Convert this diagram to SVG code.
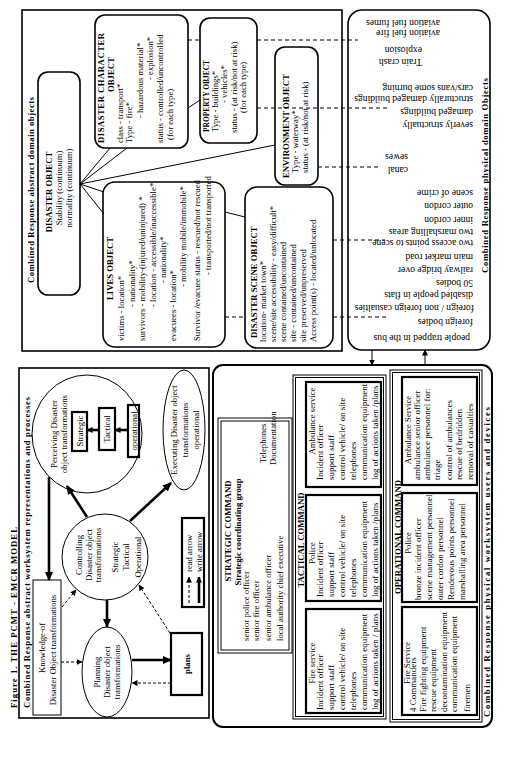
<svg xmlns="http://www.w3.org/2000/svg" width="512" height="763" viewBox="0 0 512 763">
<style>
text{font-family:"Liberation Serif","Times New Roman",serif;font-size:8.7px;fill:#000}
.b{font-weight:bold}
.m{text-anchor:middle}
.w9{font-size:9px}
.p10{font-size:9.6px}
.box{fill:none;stroke:#000;stroke-width:1.6}
.tb{fill:none;stroke:#000;stroke-width:2.2}
.tn{fill:none;stroke:#000;stroke-width:1}
.ln{fill:none;stroke:#000;stroke-width:1}
.dl{fill:none;stroke:#000;stroke-width:1;stroke-dasharray:4 3}
.ds{fill:none;stroke:#000;stroke-width:1;stroke-dasharray:3 2}
.tk{fill:none;stroke:#000;stroke-width:2.6}
</style>
<defs>
<marker id="ah" markerUnits="userSpaceOnUse" markerWidth="9" markerHeight="8" refX="8" refY="4" orient="auto"><path d="M0,0L9,4L0,8z" fill="#000"/></marker>
<marker id="am" markerUnits="userSpaceOnUse" markerWidth="6" markerHeight="6" refX="5.5" refY="3" orient="auto"><path d="M0,0L6,3L0,6z" fill="#000"/></marker>
</defs>
<rect width="512" height="763" fill="#fff"/>

<!-- ===== Figure / abstract worksystem ===== -->
<g id="figure-title"><g transform="rotate(-90)">
<text class="b" font-size="10.5" x="-708" y="17" textLength="181">Figure 1. THE PCMT - EMCR MODEL</text>
</g></g>

<g id="abstract-worksystem-panel">
<rect class="box" x="19" y="368" width="190" height="350"/>
<g transform="rotate(-90)"><text class="b" font-size="10" x="-708" y="30" textLength="311">Combined Response abstract worksystem representations and processes</text></g>
</g>

<g id="knowledge">
<rect class="tn" x="33" y="580" width="28" height="135" stroke-width="1.3"/>
<g transform="rotate(-90)">
<text class="m" x="-648" y="45">Knowledge-of</text>
<text class="m" x="-650" y="56">Disaster Object transformations</text>
</g></g>

<g id="perceiving">
<ellipse class="tn" cx="87" cy="434" rx="55" ry="59"/>
<rect class="tb" x="72" y="412" width="15" height="39"/>
<rect class="tb" x="99" y="408" width="16" height="42"/>
<rect class="tb" x="128" y="405" width="11" height="52"/>
<g transform="rotate(-90)">
<text class="m" x="-434" y="57">Perceiving Disaster</text>
<text class="m" x="-434" y="67">object transformations</text>
<text class="m" x="-431" y="83" font-size="7.5">Strategic</text>
<text class="m" x="-429" y="110" font-size="7.5">Tactical</text>
<text class="m" x="-431" y="136.5" font-size="7">operational</text>
</g></g>

<g id="controlling">
<circle class="tn" cx="105" cy="557" r="43"/>
<g transform="rotate(-90)">
<text class="m" x="-555" y="82">Controlling</text>
<text class="m" x="-555" y="91.5">Disaster object</text>
<text class="m" x="-555" y="101">transformations</text>
<text class="m" x="-557" y="118">Strategic</text>
<text class="m" x="-557" y="129">Tactical</text>
<text class="m" x="-557" y="141">Operational</text>
</g></g>

<g id="executing">
<ellipse class="tn" cx="184" cy="430" rx="21" ry="60"/>
<g transform="rotate(-90)">
<text class="m" x="-430" y="177">Executing Disaster object</text>
<text class="m" x="-430" y="188">transformations</text>
<text class="m" x="-430" y="199">operational</text>
</g></g>

<g id="planning">
<ellipse class="tn" cx="107" cy="672" rx="25" ry="45"/>
<g transform="rotate(-90)">
<text class="m" x="-672" y="100">Planning</text>
<text class="m" x="-672" y="110">Disaster object</text>
<text class="m" x="-672" y="120">transformations</text>
</g></g>

<g id="plans">
<rect class="tb" x="171" y="633" width="31" height="62"/>
<g transform="rotate(-90)"><text class="b m" x="-664" y="190" font-size="9.5">plans</text></g>
</g>

<g id="legend">
<rect class="tb" x="182" y="518" width="22" height="89"/>
<line class="ds" x1="189" y1="603" x2="189" y2="577" marker-end="url(#am)"/>
<line class="tk" x1="199" y1="603" x2="199" y2="577" stroke-width="2" marker-end="url(#am)"/>
<g transform="rotate(-90)">
<text x="-572" y="192" font-size="8">read arrow</text>
<text x="-572" y="202" font-size="8">write arrow</text>
</g></g>

<g id="worksystem-connectors">
<line class="tk" x1="87" y1="517" x2="67" y2="486" marker-end="url(#ah)"/>
<line class="tk" x1="130" y1="521" x2="171" y2="483" marker-end="url(#ah)"/>
<line class="tk" x1="107" y1="600" x2="107" y2="627" marker-end="url(#ah)"/>
<line class="tk" x1="49" y1="477" x2="49" y2="580" marker-end="url(#ah)"/>
<line class="tk" x1="132" y1="660" x2="171" y2="660" marker-end="url(#ah)"/>
<line class="tk" x1="128" y1="430" x2="115" y2="430" stroke-width="2" marker-end="url(#am)"/>
<line class="tk" x1="99" y1="430" x2="87" y2="430" stroke-width="2" marker-end="url(#am)"/>
<line class="ds" x1="62" y1="607" x2="76" y2="590" marker-end="url(#am)"/>
<line class="ds" x1="61" y1="662" x2="82" y2="662" marker-end="url(#am)"/>
<line class="ds" x1="171" y1="683" x2="132" y2="683" marker-end="url(#am)"/>
<line class="ds" x1="170" y1="633" x2="139" y2="585" marker-end="url(#am)"/>
</g>

<!-- ===== Abstract domain objects ===== -->
<g id="abstract-domain-panel">
<rect class="box" x="22" y="10" width="320" height="341"/>
<g transform="rotate(-90)"><text class="b" font-size="9.5" x="-283" y="34" textLength="186">Combined Response abstract domain objects</text></g>
</g>

<g id="disaster-object">
<rect class="box" x="38" y="72" width="42" height="223" rx="10"/>
<g transform="rotate(-90)">
<text class="b m" font-size="12" x="-192" y="52">DISASTER OBJECT</text>
<text class="m" font-size="10.5" x="-188" y="62">Stability (continuum)</text>
<text class="m" font-size="10.5" x="-188" y="72">normality (continuum)</text>
</g></g>

<g id="disaster-character-object">
<rect class="box" x="95" y="15" width="93" height="133" rx="10"/>
<g transform="rotate(-90)">
<text class="b" font-size="9.5" x="-143" y="104" textLength="110">DISASTER CHARACTER</text>
<text class="b" font-size="9.5" x="-92" y="114">OBJECT</text>
<text x="-143" y="123">class - transport*</text>
<text x="-143" y="132">Type - fire*</text>
<text x="-118" y="143">- hazardous material*</text>
<text x="-80" y="153">- explosion*</text>
<text x="-143" y="163">status - controlled/uncontrolled</text>
<text x="-140" y="173">(for each type)</text>
</g></g>

<g id="property-object">
<rect class="box" x="200" y="18" width="57" height="125" rx="10"/>
<g transform="rotate(-90)">
<text class="b" font-size="9" x="-132" y="209" textLength="72" lengthAdjust="spacingAndGlyphs">PROPERTY OBJECT</text>
<text x="-132" y="218">Type - buildings*</text>
<text x="-103" y="227">- vehicles*</text>
<text x="-133" y="237">status - (at risk/not at risk)</text>
<text x="-113" y="246">(for each type)</text>
</g></g>

<g id="environment-object">
<rect class="box" x="275" y="47" width="43" height="138" rx="10"/>
<g transform="rotate(-90)">
<text class="b" font-size="9.5" x="-178" y="289">ENVIRONMENT OBJECT</text>
<text x="-173" y="298">Type - waterway*</text>
<text x="-173" y="308">status - (at risk/not at risk)</text>
</g></g>

<g id="lives-object">
<rect class="box" x="103" y="182" width="122" height="165" rx="12"/>
<g transform="rotate(-90)">
<text class="b" font-size="10" x="-300" y="113">LIVES OBJECT</text>
<text x="-341" y="124">victims - location*</text>
<text x="-307" y="135">- nationality*</text>
<text x="-341" y="145">survivors - mobility-(injured/uninjured) *</text>
<text x="-307" y="156">- location - accessible/inaccessible*</text>
<text x="-283" y="166">- nationality*</text>
<text x="-341" y="176">evacuees - location*</text>
<text x="-287" y="186">- mobility mobile/immobile*</text>
<text x="-341" y="200">Survivor /evacuee status - rescued/not rescued</text>
<text x="-275" y="211">- transported/not transported</text>
</g></g>

<g id="disaster-scene-object">
<rect class="box" x="245" y="187" width="88" height="161" rx="12"/>
<g transform="rotate(-90)">
<text class="b" font-size="10" x="-338" y="257">DISASTER SCENE OBJECT</text>
<text x="-342" y="266">location- market town*</text>
<text x="-342" y="276">scene/site accessibility - easy/difficult*</text>
<text x="-342" y="286">scene contained/uncontained</text>
<text x="-342" y="296">site - contained/uncontained</text>
<text x="-342" y="306">site preserved/unpreserved</text>
<text x="-342" y="316">Access point(s) - located/unlocated</text>
</g></g>

<!-- ===== Physical domain objects ===== -->
<g id="physical-domain-objects">
<rect class="box" x="348" y="10" width="142" height="340" rx="14"/>
<g transform="rotate(-90)"><text class="b" font-size="10" x="-273" y="488" textLength="195">Combined Response physical domain Objects</text></g>
<g transform="rotate(180)">
<text class="p10" x="-440" y="-19.5">aviation fuel fumes</text>
<text class="p10" x="-440" y="-29.5">aviation fuel fire</text>
<text class="p10" x="-422" y="-46.5">explosion</text>
<text class="p10" x="-422" y="-58.5">Train crash</text>
<text class="p10" x="-473" y="-84.5">cars/vans some burning</text>
<text class="p10" x="-473" y="-95.5">structurally damaged buildings</text>
<text class="p10" x="-473" y="-108.5">damaged buildings</text>
<text class="p10" x="-473" y="-121.5">severly structually</text>
<text class="p10" x="-408" y="-153.5">sewes</text>
<text class="p10" x="-408" y="-166.5">canal</text>
<text class="p10" x="-473" y="-189.5">scene of crime</text>
<text class="p10" x="-473" y="-202.5">outer cordon</text>
<text class="p10" x="-473" y="-216.5">inner cordon</text>
<text class="p10" x="-473" y="-228.5">two marshalling areas</text>
<text class="p10" x="-473" y="-239.5">two access points to scene</text>
<text class="p10" x="-473" y="-253.5">main market road</text>
<text class="p10" x="-473" y="-266.5">railway bridge over</text>
<text class="p10" x="-473" y="-279.5">50 bodies</text>
<text class="p10" x="-473" y="-291.5">disabled people in flats</text>
<text class="p10" x="-474" y="-304.5">foreign / non foreign casualties</text>
<text class="p10" x="-473" y="-318.5">foreign bodies</text>
<text class="p10" x="-470" y="-334.5">people trapped in the bus</text>
</g></g>

<g id="domain-connectors">
<line class="ln" x1="80" y1="184" x2="110" y2="148"/>
<line class="ln" x1="80" y1="184" x2="127" y2="148"/>
<line class="ln" x1="80" y1="184" x2="104" y2="192"/>
<line class="ln" x1="80" y1="184" x2="104" y2="214"/>
<line class="ln" x1="80" y1="184" x2="275" y2="145"/>
<line class="ln" x1="188" y1="108" x2="200" y2="100"/>
<line class="ln" x1="225" y1="212" x2="245" y2="217"/>
<line class="dl" x1="188" y1="40" x2="200" y2="40"/>
<line class="dl" x1="257" y1="40" x2="358" y2="40"/>
<line class="dl" x1="257" y1="108" x2="387" y2="108"/>
<line class="dl" x1="318" y1="167" x2="380" y2="167"/>
<line class="dl" x1="333" y1="240" x2="385" y2="240"/>
<line class="dl" x1="225" y1="317" x2="245" y2="317"/>
<line class="dl" x1="333" y1="317" x2="387" y2="317"/>
<line class="ln" x1="372" y1="350" x2="372" y2="365" marker-end="url(#am)"/>
<line class="ln" x1="425" y1="365" x2="425" y2="350" marker-end="url(#am)"/>
</g>

<!-- ===== Physical worksystem users and devices ===== -->
<g id="physical-worksystem-panel">
<rect x="213" y="365" width="279" height="362" rx="10" fill="none" stroke="#000" stroke-width="2"/>
<g transform="rotate(-90)"><text class="b" font-size="10.5" x="-717" y="490" textLength="310">Combined Response physical worksystem users and devices</text></g>
</g>

<g id="strategic-command">
<rect class="tn" x="218" y="418" width="74" height="235" stroke-width="1.3"/>
<rect class="tn" x="221" y="421" width="68" height="229"/>
<g transform="rotate(-90)">
<text class="b m" font-size="9.2" x="-531" y="231">STRATEGIC COMMAND</text>
<text class="b m" font-size="9.2" x="-532" y="241">Strategic coordinating group</text>
<text x="-641" y="249">senior police officer</text>
<text x="-641" y="259">senior fire officer</text>
<text x="-641" y="271">senior ambulance officer</text>
<text x="-641" y="283">local authority chief executive</text>
<text x="-463" y="266">Telephones</text>
<text x="-465" y="276">Documentation</text>
</g></g>

<g id="tactical-command">
<rect class="tn" x="293" y="375" width="93" height="344" stroke-width="1.3"/>
<rect class="tn" x="295.5" y="377.5" width="88" height="339"/>
<g transform="rotate(-90)"><text class="b m" font-size="9.5" x="-540" y="304">TACTICAL COMMAND</text></g>
</g>

<g id="tactical-ambulance">
<rect class="tb" x="306" y="382" width="75" height="105"/>
<g transform="rotate(-90)">
<text class="m" font-size="9.5" x="-421" y="315">Ambulance service</text>
<text class="w9" x="-480" y="323">Incident officer</text>
<text class="w9" x="-480" y="334">support staff</text>
<text class="w9" x="-480" y="345">control vehicle/ on site</text>
<text class="w9" x="-480" y="356">telephones</text>
<text class="w9" x="-480" y="367">communication equipment</text>
<text class="w9" x="-480" y="378">log of actions taken /plans</text>
</g></g>

<g id="tactical-police">
<rect class="tb" x="306" y="495" width="75" height="106"/>
<g transform="rotate(-90)">
<text class="m" font-size="9.5" x="-553" y="315">Police</text>
<text class="w9" x="-597" y="323">Incident officer</text>
<text class="w9" x="-597" y="334">support staff</text>
<text class="w9" x="-597" y="345">control vehicle/ on site</text>
<text class="w9" x="-597" y="356">telephones</text>
<text class="w9" x="-597" y="367">communication equipment</text>
<text class="w9" x="-597" y="378">log of actions taken /plans</text>
</g></g>

<g id="tactical-fire">
<rect class="tb" x="306" y="609" width="75" height="104"/>
<g transform="rotate(-90)">
<text class="m" font-size="9.5" x="-663" y="315">Fire service</text>
<text class="w9" x="-710" y="323">Incident officer</text>
<text class="w9" x="-710" y="334">support staff</text>
<text class="w9" x="-710" y="345">control vehicle/ on site</text>
<text class="w9" x="-710" y="356">telephones</text>
<text class="w9" x="-710" y="367">communication equipment</text>
<text class="w9" x="-710" y="378">log of actions taken / plans</text>
</g></g>

<g id="operational-command">
<rect class="tn" x="390" y="370" width="92" height="352" stroke-width="1.3"/>
<rect class="tn" x="392.5" y="372.5" width="87" height="347"/>
<g transform="rotate(-90)"><text class="b m" font-size="8.7" x="-537" y="401">OPERATIONAL COMMAND</text></g>
</g>

<g id="operational-ambulance">
<rect class="tb" x="402" y="377" width="75" height="108"/>
<g transform="rotate(-90)">
<text class="m" font-size="9.5" x="-430" y="411">Ambulance Service</text>
<text class="w9" x="-480" y="420">ambulance senior officer</text>
<text class="w9" x="-480" y="430">ambulance personnel  for:</text>
<text class="w9" x="-480" y="440">triage</text>
<text class="w9" x="-480" y="452">control of ambulances</text>
<text class="w9" x="-480" y="462">rescue of bedridden</text>
<text class="w9" x="-480" y="473">removal of casualties</text>
</g></g>

<g id="operational-police">
<rect class="tb" x="402" y="493" width="75" height="109"/>
<g transform="rotate(-90)">
<text class="m" font-size="9.5" x="-543" y="411">Police</text>
<text class="w9" x="-600" y="421">bronze incident officer</text>
<text class="w9" x="-600" y="432">scene management personnel</text>
<text class="w9" x="-600" y="443">outer cordon personnel</text>
<text class="w9" x="-600" y="454">Rendevous points personnel</text>
<text class="w9" x="-600" y="465">marshalling area personnel</text>
</g></g>

<g id="operational-fire">
<rect class="tb" x="402" y="607" width="75" height="108"/>
<g transform="rotate(-90)">
<text class="m" font-size="9.5" x="-663" y="410">Fire Service</text>
<text class="w9" x="-712" y="416">4 Commanders</text>
<text class="w9" x="-712" y="426">Fire fighting equipment</text>
<text class="w9" x="-712" y="436">rescue equipment</text>
<text class="w9" x="-712" y="447">decontamination equipment</text>
<text class="w9" x="-712" y="457">communication equipment</text>
<text class="w9" x="-712" y="470">firemen</text>
</g></g>
</svg>
